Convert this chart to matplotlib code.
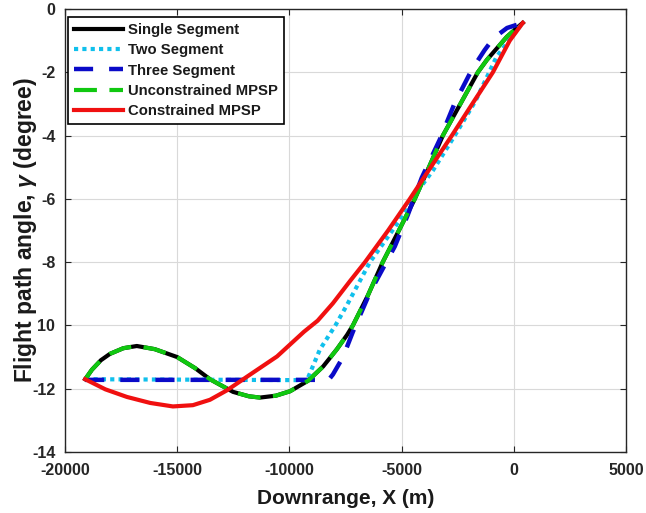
import matplotlib
matplotlib.use("Agg")
import matplotlib.pyplot as plt

# (downrange in m, flight path angle in deg)
single_x = [-19100, -18800, -18400, -18000, -17400, -16800, -16000, -15000,
            -14200, -13540, -12510, -11800, -11310, -10600, -9970, -9170,
            -8500, -7880, -7430, -7170, -6500, -5840, -5120, -4410, -3780,
            -3160, -2380, -1600, -1200, -700, -310, 180, 400]
single_y = [-11.70, -11.40, -11.10, -10.90, -10.72, -10.65, -10.75, -11.00,
            -11.35, -11.70, -12.10, -12.24, -12.28, -12.22, -12.08, -11.75,
            -11.30, -10.75, -10.30, -10.00, -9.05, -8.00, -7.00, -6.00, -5.00,
            -4.00, -3.00, -2.00, -1.61, -1.20, -0.88, -0.57, -0.44]

two_x = [-19100, -9215, -8900, -8640, -7950, -7430, -6410, -5160, -4540,
         -3600, -2630, -1700, -760, 0, 400]
two_y = [-11.70, -11.73, -11.20, -10.76, -10.00, -9.35, -8.00, -6.75, -6.00,
         -5.10, -4.00, -2.90, -1.50, -0.80, -0.44]

three_x = [-19100, -8250, -8060, -7610, -7170, -6410, -5300, -4720, -4100,
           -3300, -2630, -1870, -1300, -900, -300, 400]
three_y = [-11.72, -11.72, -11.55, -11.00, -10.20, -8.96, -7.50, -6.50, -5.33,
           -4.13, -2.97, -1.92, -1.30, -0.92, -0.60, -0.44]

# unconstrained MPSP lies on top of the single segment solution
unc_x = single_x
unc_y = single_y

con_x = [-19100, -18200, -17240, -16200, -15190, -14300, -13540, -12780,
         -11890, -10550, -9350, -8740, -8060, -7300, -6630, -5600, -4630,
         -3700, -2760, -1850, -930, -180, 400]
con_y = [-11.70, -12.02, -12.26, -12.45, -12.56, -12.52, -12.35, -12.05,
         -11.62, -10.98, -10.20, -9.85, -9.30, -8.60, -8.00, -7.00, -6.00,
         -5.00, -4.00, -3.00, -2.00, -1.00, -0.44]

xticks = [-20000, -15000, -10000, -5000, 0, 5000]
yticks = [0, -2, -4, -6, -8, -10, -12, -14]
yticklabels = ["0", "-2", "-4", "-6", "-8", "10", "-12", "-14"]

plt.rcParams["font.family"] = ["Liberation Sans", "DejaVu Sans"]
plt.rcParams["font.weight"] = "bold"
plt.rcParams["mathtext.fontset"] = "custom"
plt.rcParams["mathtext.it"] = "Liberation Sans:italic:bold"
plt.rcParams["mathtext.bf"] = "Liberation Sans:bold"

fig = plt.figure(figsize=(6.46, 5.13), dpi=100)
ax = fig.add_axes([0.1006, 0.1189, 0.8684, 0.8636])

ax.plot(single_x, single_y, color="black", lw=3.0, label="Single Segment",
        zorder=3, solid_joinstyle="round")
ax.plot(two_x, two_y, color="#10c0ec", lw=3.0, dashes=(1.0, 1.0),
        label="Two Segment", zorder=4)
ax.plot(three_x, three_y, color="#0a0ac8", lw=3.2, dashes=(4.3, 3.6),
        label="Three Segment", zorder=5)
ax.plot(unc_x, unc_y, color="#10c810", lw=3.0, dashes=(5.5, 3.0),
        label="Unconstrained MPSP", zorder=6)
ax.plot(con_x, con_y, color="#f01010", lw=3.0, label="Constrained MPSP",
        zorder=7, solid_joinstyle="round")

ax.set_xlim(-20000, 5000)
ax.set_ylim(-14, 0)
ax.set_xticks(xticks)
ax.set_xticklabels([str(v) for v in xticks])
ax.set_yticks(yticks)
ax.set_yticklabels(yticklabels)
ax.tick_params(direction="in", top=True, right=True, length=4, width=0.8,
               labelsize=11.5, colors="#262626", labelcolor="#262626")
ax.tick_params(axis="x", pad=8)
ax.tick_params(axis="y", pad=7)
for lab in ax.get_xticklabels() + ax.get_yticklabels():
    lab.set_fontweight("bold")
for sp in ax.spines.values():
    sp.set_color("#262626")
    sp.set_linewidth(1.0)
ax.grid(True, color="#d9d9d9", lw=0.8)
ax.set_axisbelow(True)

ax.set_xlabel("Downrange, X (m)", fontsize=15, fontweight="bold",
              color="#1a1a1a", labelpad=8)
ax.set_ylabel("Flight path angle, $\\mathit{\\gamma}$ (degree)", fontsize=16.5,
              fontweight="bold", color="#1a1a1a", labelpad=-5)

leg = ax.legend(loc="upper left", bbox_to_anchor=(0.005, 0.982),
                borderaxespad=0, fontsize=10.7, handlelength=3.3,
                handletextpad=0.35, labelspacing=0.42, borderpad=0.42,
                fancybox=False, framealpha=1, edgecolor="black")
leg.get_frame().set_linewidth(1.2)
for t in leg.get_texts():
    t.set_fontweight("bold")
    t.set_color("#1a1a1a")

fig.savefig("out.png", dpi=100)
